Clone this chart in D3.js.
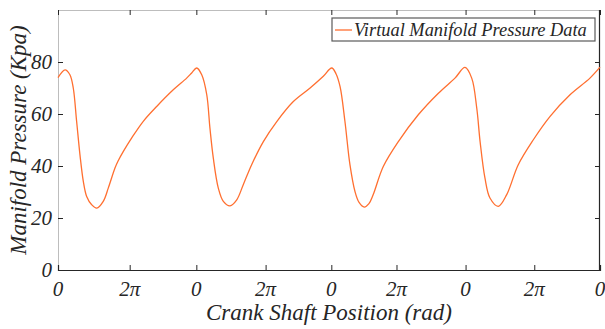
<!DOCTYPE html>
<html>
<head>
<meta charset="utf-8">
<script src="https://cdn.jsdelivr.net/npm/d3@7"></script>
</head>
<body style="margin:0">
<svg id="chart" width="605" height="329"></svg>
<script>
// Crank angle (deg, continuous over four cycles) and manifold pressure (kPa)
const crankAngle = [
  0, 38, 64, 82, 100, 118, 136, 154, 181, 208, 243, 270, 306, 322, 351, 396, 458, 530, 619, 691, 718, 745,
  772, 799, 816, 834, 861, 888, 924, 960, 995, 1040, 1103, 1175, 1264, 1354, 1425, 1470,
  1493, 1515, 1541, 1568, 1595, 1617, 1645, 1670, 1693, 1747, 1828, 1935, 2043, 2132, 2186,
  2222, 2249, 2267, 2293, 2320, 2365, 2410, 2472, 2553, 2643, 2750, 2857, 2911
];
const pressure = [
  74.0, 77.0, 75.1, 70.0, 57.2, 44.3, 34.1, 28.3, 25.1, 23.8, 26.4, 31.5, 39.2, 41.8, 45.6, 50.8, 57.2, 62.9, 69.3, 73.8, 75.8, 77.7,
  75.1, 67.4, 54.6, 43.1, 31.5, 26.4, 24.7, 27.0, 32.8, 40.5, 49.4, 57.1, 64.8, 70.0, 74.5, 77.7,
  75.5, 70.5, 57.2, 40.5, 30.2, 26.0, 24.2, 25.5, 29.0, 39.8, 49.4, 59.7, 68.0, 73.8, 77.9,
  73.8, 62.3, 49.4, 35.4, 27.7, 24.5, 29.0, 40.5, 50.1, 59.1, 67.4, 73.8, 78.0
];

// Tick positions along the crank axis and the labels shown for them
const xTickValues = [0, 385, 743, 1115, 1468, 1818, 2189, 2558, 2911];
const xTickLabels = ["0", "2\u03c0", "0", "2\u03c0", "0", "2\u03c0", "0", "2\u03c0", "0"];
const yTickValues = [0, 20, 40, 60, 80];

const seriesName = "Virtual Manifold Pressure Data";
const xTitle = "Crank Shaft Position (rad)";
const yTitle = "Manifold Pressure (Kpa)";

const INK = "#262626";

const margin = { left: 58, right: 5, top: 10, bottom: 59 };
const W = 605, H = 329;
const iw = W - margin.left - margin.right;
const ih = H - margin.top - margin.bottom;

const svg = d3.select("#chart").style("display", "block");
const g = svg.append("g").attr("transform", `translate(${margin.left},${margin.top})`);

const x = d3.scaleLinear().domain([0, 2911]).range([0, iw]);
const y = d3.scaleLinear().domain([0, 100]).range([ih, 0]);

const data = crankAngle.map((a, i) => ({ a, p: pressure[i] }));

// Serif italic labels in the dark ink colour
function addLabel(parent, str, size) {
  return parent.append("text")
    .style("font-family", "'Liberation Serif'")
    .style("font-style", "italic")
    .style("font-size", size + "px")
    .attr("fill", INK)
    .text(str);
}

// Box frame: top/left lighter, bottom/right dark
g.append("line").attr("x1", 0).attr("x2", iw).attr("y1", 0.5).attr("y2", 0.5)
  .attr("stroke", "#bdbdbd").attr("stroke-width", 1);
g.append("line").attr("x1", 0.5).attr("x2", 0.5).attr("y1", 0).attr("y2", ih)
  .attr("stroke", "#bdbdbd").attr("stroke-width", 1);

// Bottom axis: inward ticks, labels drawn separately
const gx = g.append("g").attr("transform", `translate(0,${ih})`)
  .call(d3.axisBottom(x).tickValues(xTickValues).tickFormat("").tickSize(-5));
gx.select(".domain").attr("stroke", INK).attr("stroke-width", 1.2);
gx.selectAll(".tick line").attr("stroke", INK);
xTickValues.forEach((v, i) => {
  addLabel(g, xTickLabels[i], 21).attr("x", x(v)).attr("y", ih + 26).attr("text-anchor", "middle");
});

// Top ticks
const gxt = g.append("g").call(d3.axisTop(x).tickValues(xTickValues).tickFormat("").tickSize(-5));
gxt.select(".domain").remove();
gxt.selectAll(".tick line").attr("stroke", INK);

// Left axis: inward ticks
const gy = g.append("g").call(d3.axisLeft(y).tickValues(yTickValues).tickFormat("").tickSize(-5));
gy.select(".domain").remove();
gy.selectAll(".tick line").attr("stroke", INK);
yTickValues.forEach(v => {
  addLabel(g, String(v), 21).attr("x", -6).attr("y", y(v) + 7).attr("text-anchor", "end");
});

// Right axis ticks
const gyr = g.append("g").attr("transform", `translate(${iw},0)`)
  .call(d3.axisRight(y).tickValues(yTickValues).tickFormat("").tickSize(-5));
gyr.select(".domain").remove();
gyr.selectAll(".tick line").attr("stroke", INK);
g.append("line").attr("x1", iw - 0.5).attr("x2", iw - 0.5).attr("y1", 0).attr("y2", ih + 0.5)
  .attr("stroke", INK).attr("stroke-width", 1.2);

// Pressure trace
const line = d3.line().x(d => x(d.a)).y(d => y(d.p)).curve(d3.curveCatmullRom.alpha(0.5));
g.append("path").datum(data).attr("d", line)
  .attr("fill", "none").attr("stroke", "#ff6f30").attr("stroke-width", 1.3);

// Legend
const lg = svg.append("g").attr("transform", "translate(332,18)");
lg.append("rect").attr("x", 0).attr("y", 0).attr("width", 263).attr("height", 23)
  .attr("fill", "#fff").attr("stroke", "#5a5a5a").attr("stroke-width", 1.2);
lg.append("line").attr("x1", 3).attr("x2", 20).attr("y1", 12).attr("y2", 12)
  .attr("stroke", "#ff6f30").attr("stroke-width", 1.3);
addLabel(lg, seriesName, 18.4).attr("x", 22).attr("y", 18);

// Axis titles
addLabel(svg, xTitle, 23).attr("x", margin.left + iw / 2).attr("y", 320).attr("text-anchor", "middle");
addLabel(svg, yTitle, 23).attr("text-anchor", "middle")
  .attr("transform", `translate(26,${margin.top + ih / 2}) rotate(-90)`);
</script>
</body>
</html>
